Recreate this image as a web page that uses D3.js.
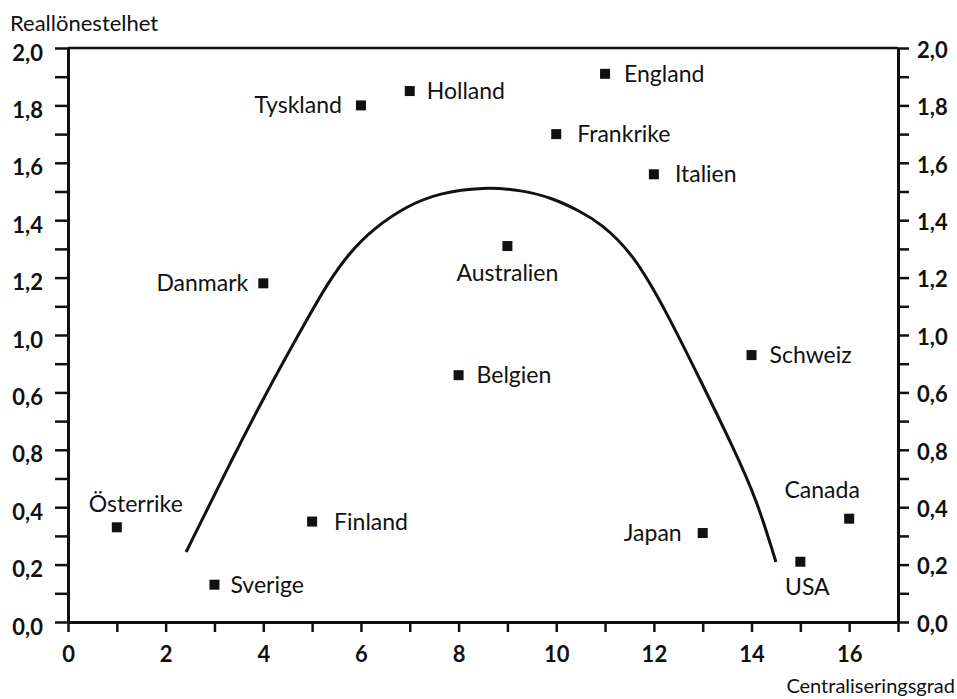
<!DOCTYPE html>
<html>
<head>
<meta charset="utf-8">
<script src="https://cdn.jsdelivr.net/npm/d3@7"></script>
<style>
  body { margin: 0; background: white; }
  text { font-family: Lato, "Open Sans", sans-serif; fill: #111; }
</style>
</head>
<body>
<div id="chart"></div>
<script>
// Reallönestelhet vs Centraliseringsgrad

const countries = ["Österrike", "Sverige", "Danmark", "Finland", "Tyskland", "Holland", "Belgien",
  "Australien", "Frankrike", "England", "Italien", "Japan", "Schweiz", "USA", "Canada"];
const centralisation = [1, 3, 4, 5, 6, 7, 8, 9, 10, 11, 12, 13, 14, 15, 16];
const realWage = [0.33, 0.13, 1.18, 0.35, 1.80, 1.85, 0.86, 1.31, 1.70, 1.91, 1.56, 0.31, 0.93, 0.21, 0.36];

// hump curve drawn through the scatter
const curveX = [2.42, 3.38, 4.20, 4.81, 5.31, 5.78, 6.25, 6.94, 7.60, 8.50, 9.30, 9.93, 10.50, 10.90, 11.57, 12.27, 12.95, 13.62, 14.11, 14.50];
const curveY = [0.244, 0.575, 0.843, 1.028, 1.180, 1.290, 1.370, 1.450, 1.495, 1.516, 1.505, 1.477, 1.430, 1.390, 1.286, 1.077, 0.843, 0.610, 0.425, 0.209];

// tick labels as printed (0,6 and 0,8 swapped in the original)
const yTickLabels = ["0,0", "0,2", "0,4", "0,8", "0,6", "1,0", "1,2", "1,4", "1,6", "1,8", "2,0"];
const xTickLabels = ["0", "2", "4", "6", "8", "10", "12", "14", "16"];

// label placement per country: [anchor, dx, dy]
const labelPos = {
  "Österrike": ["middle", 19, -15],
  "Sverige": ["start", 16, 8],
  "Danmark": ["end", -15, 8],
  "Finland": ["start", 22, 8],
  "Tyskland": ["end", -19, 8],
  "Holland": ["start", 17, 8],
  "Belgien": ["start", 18, 8],
  "Australien": ["middle", 0, 35],
  "Frankrike": ["start", 21, 8],
  "England": ["start", 19, 8],
  "Italien": ["start", 21, 8],
  "Japan": ["end", -21, 8],
  "Schweiz": ["start", 18, 8],
  "USA": ["middle", 7, 33],
  "Canada": ["middle", -27, -21]
};

const width = 957, height = 699;
const margin = { top: 48, left: 68, right: 59, bottom: 77 };

const svg = d3.select("#chart")
  .append("svg")
  .attr("width", width)
  .attr("height", height)
  .style("background-color", "white");

const x = d3.scaleLinear()
  .domain([0, 17])
  .range([margin.left, width - margin.right]);

const y = d3.scaleLinear()
  .domain([0, 2])
  .range([height - margin.bottom, margin.top]);

const yTicks = d3.range(0, 21).map(i => i / 10);

// left axis
const gLeft = svg.append("g")
  .attr("transform", `translate(${margin.left},0)`)
  .call(d3.axisLeft(y)
    .tickValues(yTicks)
    .tickSize(13)
    .tickSizeOuter(0)
    .tickPadding(12)
    .tickFormat((d, i) => i % 2 === 0 ? yTickLabels[i / 2] : ""));

// right axis
const gRight = svg.append("g")
  .attr("transform", `translate(${width - margin.right},0)`)
  .call(d3.axisRight(y)
    .tickValues(yTicks)
    .tickSize(11)
    .tickSizeOuter(0)
    .tickPadding(8)
    .tickFormat((d, i) => i % 2 === 0 ? yTickLabels[i / 2] : ""));

// bottom axis
const gBottom = svg.append("g")
  .attr("transform", `translate(0,${height - margin.bottom})`)
  .call(d3.axisBottom(x)
    .tickValues(d3.range(0, 18))
    .tickSize(10)
    .tickSizeOuter(0)
    .tickPadding(14)
    .tickFormat((d, i) => (i % 2 === 0 && i <= 16) ? xTickLabels[i / 2] : ""));

[gLeft, gRight, gBottom].forEach(g => {
  g.select(".domain").attr("stroke", "#111").attr("stroke-width", 3);
  g.selectAll(".tick line").attr("stroke", "#111").attr("stroke-width", 2.5);
  g.selectAll(".tick text")
    .style("font-size", "22px")
    .style("font-weight", "bold")
    .attr("fill", "#111");
});
gLeft.selectAll(".tick text").attr("dy", "0.55em");
gRight.selectAll(".tick text").attr("dy", "0.42em");

// top border
svg.append("line")
  .attr("x1", x(0))
  .attr("x2", x(17))
  .attr("y1", y(2))
  .attr("y2", y(2))
  .attr("stroke", "#111")
  .attr("stroke-width", 2.5);

// axis titles
svg.append("text")
  .attr("x", 10)
  .attr("y", 31)
  .text("Reallönestelhet")
  .style("font-size", "22px");

svg.append("text")
  .attr("x", 955)
  .attr("y", 693)
  .attr("text-anchor", "end")
  .text("Centraliseringsgrad")
  .style("font-size", "20px");

// curve
const curvePts = curveX.map((d, i) => [d, curveY[i]]);
svg.append("path")
  .datum(curvePts)
  .attr("fill", "none")
  .attr("stroke", "#111")
  .attr("stroke-width", 3)
  .attr("d", d3.line()
    .x(d => x(d[0]))
    .y(d => y(d[1]))
    .curve(d3.curveBasis));

// points
const pts = countries.map((c, i) => ({ name: c, cx: centralisation[i], rw: realWage[i] }));

svg.selectAll(".pt")
  .data(pts)
  .enter()
  .append("rect")
  .attr("class", "pt")
  .attr("x", d => x(d.cx) - 5)
  .attr("y", d => y(d.rw) - 5)
  .attr("width", 10)
  .attr("height", 10)
  .attr("fill", "#111");

svg.selectAll(".lbl")
  .data(pts)
  .enter()
  .append("text")
  .attr("class", "lbl")
  .attr("x", d => x(d.cx) + labelPos[d.name][1])
  .attr("y", d => y(d.rw) + labelPos[d.name][2])
  .attr("text-anchor", d => labelPos[d.name][0])
  .text(d => d.name)
  .style("font-size", "23px");
</script>
</body>
</html>
